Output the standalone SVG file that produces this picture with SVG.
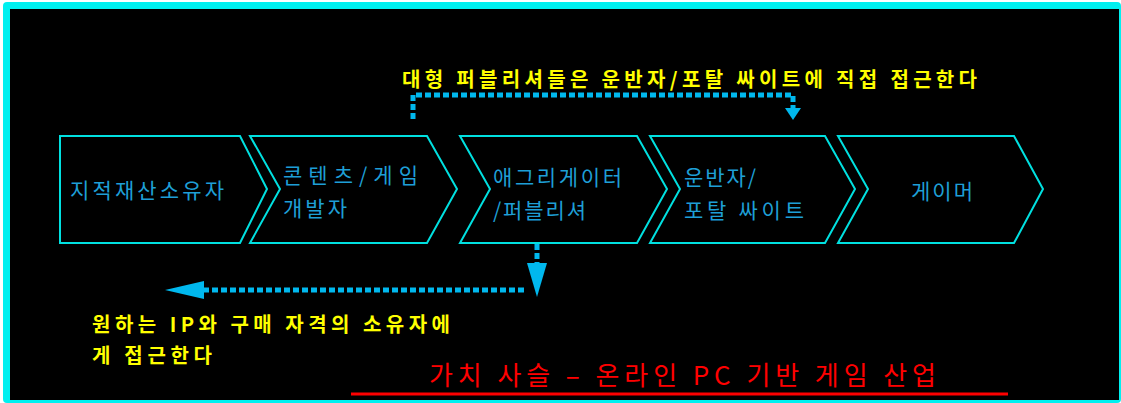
<svg xmlns="http://www.w3.org/2000/svg" width="1121" height="403" viewBox="0 0 1121 403">
<style>
.chev{fill:#000;stroke:#00E0E0;stroke-width:2;stroke-linejoin:miter}
.bt{font-family:"Noto Sans CJK KR","Noto Sans",sans-serif;font-size:21px;fill:#1E9FD6}
.yt{font-family:"Noto Sans CJK KR","Noto Sans",sans-serif;font-size:20px;font-weight:bold;fill:#FFFF00}
.tt{font-family:"Noto Sans CJK KR","Noto Sans",sans-serif;font-size:26px;fill:#FF0000}
.dash{fill:none;stroke:#00B8EE;stroke-width:5;stroke-dasharray:6 3}
.head{fill:#00B8EE}
</style>
<rect x="0" y="0" width="1121" height="403" fill="#fff"/>
<rect x="3" y="2" width="1118" height="401" rx="4" fill="#00F0F0"/>
<rect x="10" y="9" width="1109" height="391" fill="#000"/>

<g id="node-ip-owner">
<polygon class="chev" points="60,136 240,136 267,189 240,243 60,243"/>
<text class="bt" x="70" y="198" textLength="154" lengthAdjust="spacing">지적재산소유자</text>
</g>
<g id="node-developer">
<polygon class="chev" points="250,136 427,136 457,189 427,243 250,243 280,189"/>
<text class="bt" x="283" y="183" textLength="135" lengthAdjust="spacing">콘텐츠/게임</text>
<text class="bt" x="283" y="216" textLength="64" lengthAdjust="spacing">개발자</text>
</g>
<g id="node-aggregator">
<polygon class="chev" points="460,136 637,136 667,189 637,243 460,243 490,189"/>
<text class="bt" x="493" y="185" textLength="129" lengthAdjust="spacing">애그리게이터</text>
<text class="bt" x="493" y="218" textLength="93" lengthAdjust="spacing">/퍼블리셔</text>
</g>
<g id="node-portal">
<polygon class="chev" points="650,136 825,136 855,189 825,243 650,243 680,189"/>
<text class="bt" x="684" y="185" textLength="72" lengthAdjust="spacing">운반자/</text>
<text class="bt" x="684" y="218" textLength="120" lengthAdjust="spacing">포탈 싸이트</text>
</g>
<g id="node-gamer">
<polygon class="chev" points="838,136 1014,136 1043,189 1014,243 838,243 868,189"/>
<text class="bt" x="911" y="199" textLength="62" lengthAdjust="spacing">게이머</text>
</g>

<g id="connectors">
<path class="dash" d="M413,119 V95 H793 V108"/>
<polygon class="head" points="785,108 801,108 793,120"/>
<path class="dash" d="M537,244 V264"/>
<polygon class="head" points="527,263 547,263 537,297"/>
<path class="dash" d="M524,290 H200"/>
<polygon class="head" points="204,281 204,299 165,290"/>
</g>

<g id="labels">
<text class="yt" x="402" y="87" textLength="575" lengthAdjust="spacing">대형 퍼블리셔들은 운반자/포탈 싸이트에 직접 접근한다</text>
<text class="yt" x="92" y="332" textLength="358" lengthAdjust="spacing">원하는 IP와 구매 자격의 소유자에</text>
<text class="yt" x="92" y="363" textLength="120" lengthAdjust="spacing">게 접근한다</text>
</g>

<g id="title">
<text class="tt" x="429" y="385" textLength="507" lengthAdjust="spacing">가치 사슬 – 온라인 PC 기반 게임 산업</text>
<line x1="351" y1="394" x2="1008" y2="394" stroke="#FF0000" stroke-width="3"/>
</g>
</svg>
